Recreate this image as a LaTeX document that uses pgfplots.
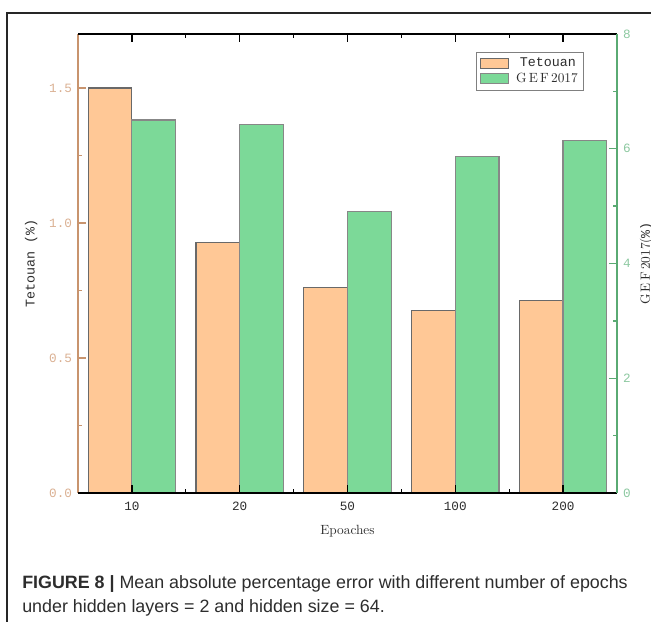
\documentclass[border=0pt]{standalone}
\usepackage{pgfplots}
\pgfplotsset{compat=1.18}
\usepackage{fontspec}
\newfontfamily\mono{Liberation Mono}
\newfontfamily\capfont{Liberation Sans}
\definecolor{orfill}{RGB}{255,200,150}
\definecolor{grfill}{RGB}{124,217,152}
\definecolor{oraxis}{RGB}{200,148,110}
\definecolor{oratick}{RGB}{218,176,146}
\definecolor{graxis}{RGB}{90,170,115}
\definecolor{grtick}{RGB}{140,200,160}
\definecolor{edge}{RGB}{105,105,105}
\definecolor{txt}{RGB}{45,45,45}

\pgfplotsset{
  common/.style={
    at={(58.5pt,96.75pt)}, anchor=south west, scale only axis,
    width=404.25pt, height=344.25pt,
    xmin=-0.5, xmax=4.5,
    tick align=inside,
    major tick length=6pt, minor tick length=3pt,
  },
}

\begin{document}
\begin{tikzpicture}
\useasboundingbox (0,0) rectangle (488.25pt,466.5pt);
\draw[line width=0.8pt, black!85] (5.25pt,-1pt) -- (5.25pt,456.75pt) -- (490pt,456.75pt);

% Tetouan axis (left)
\begin{axis}[common,
  ymin=0, ymax=1.7,
  axis x line=none, axis y line*=left,
  ytick={0,0.5,1.0,1.5}, minor y tick num=1,
  every outer y axis line/.append style={oraxis, line width=1pt},
  y tick style={oraxis, line width=1pt},
  yticklabel style={font=\mono\fontsize{9.5pt}{11pt}\selectfont, text=oratick, xshift=-1pt,
    /pgf/number format/.cd, fixed, fixed zerofill, precision=1, assume math mode=true},
  ylabel={\mono Tetouan (\%)},
  ylabel style={font=\fontsize{10pt}{11pt}\selectfont, text=txt, yshift=2pt},
]
\addplot[ybar, bar width=0.405, bar shift=-0.2025, fill=orfill, draw=edge, line width=0.9pt]
  coordinates {(0,1.5) (1,0.927) (2,0.76) (3,0.677) (4,0.713)};
\end{axis}

% GEF2017 axis (right)
\begin{axis}[common,
  ymin=0, ymax=8,
  axis x line=box, axis y line*=right,
  axis on top,
  ytick={0,2,4,6,8}, minor y tick num=1,
  every outer y axis line/.append style={graxis, line width=1pt},
  every outer x axis line/.append style={black, line width=1.2pt},
  y tick style={graxis, line width=1pt},
  x tick style={black, line width=1pt},
  yticklabel style={font=\mono\fontsize{9.5pt}{11pt}\selectfont, text=grtick, xshift=1pt,
    /pgf/number format/assume math mode=true},
  xtick={0,1,2,3,4}, minor xtick={0.5,1.5,2.5,3.5},
  xticklabels={10,20,50,100,200},
  xticklabel style={font=\mono\fontsize{9.5pt}{11pt}\selectfont, text=txt, yshift=-3pt},
  xlabel={Epoaches},
  xlabel style={font=\fontsize{10pt}{11pt}\selectfont, text=txt, yshift=-4pt},
  ylabel={G\,E\,F\,2017(\mono\%)},
  ylabel style={font=\fontsize{10pt}{11pt}\selectfont, text=txt},
  legend style={at={(0.939,0.961)}, anchor=north east, draw=gray, line width=0.5pt,
    font=\fontsize{10pt}{11pt}\selectfont, text=txt, inner xsep=2.5pt, inner ysep=2pt,
    row sep=-0.5pt},
  legend cell align=left,
  legend image code/.code={\draw[#1] (0pt,-3.8pt) rectangle (21pt,3.8pt);},
]
\addlegendimage{fill=orfill, draw=edge, line width=0.5pt}
\addlegendentry{\mono\ Tetouan}
\addplot[ybar, bar width=0.405, bar shift=0.2025, fill=grfill, draw=edge!80, line width=0.9pt]
  coordinates {(0,6.50) (1,6.42) (2,4.90) (3,5.86) (4,6.15)};
\addlegendentry{\ G\,E\,F\,2017}
\end{axis}

\node[anchor=base west, inner sep=0pt, text=txt, font=\capfont\fontsize{13.4pt}{15pt}\selectfont]
  at (16.5pt,24.75pt) {\textbf{FIGURE 8 |} Mean absolute percentage error with different number of epochs};
\node[anchor=base west, inner sep=0pt, text=txt, font=\capfont\fontsize{13.4pt}{15pt}\selectfont]
  at (16.5pt,6.75pt) {under hidden layers = 2 and hidden size = 64.};
\end{tikzpicture}
\end{document}
